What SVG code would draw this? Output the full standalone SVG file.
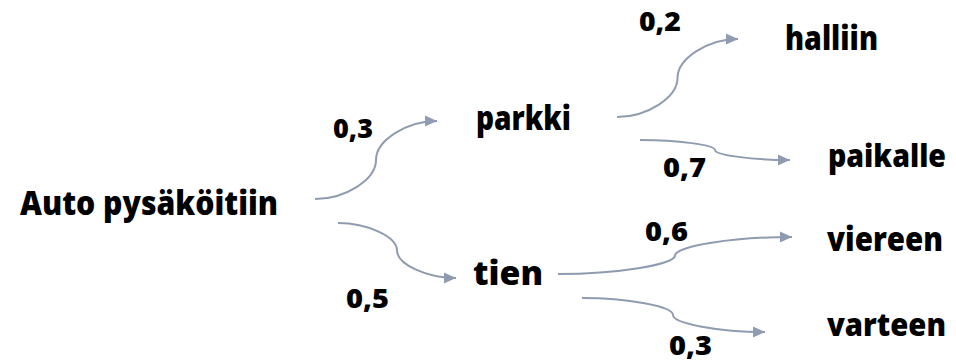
<svg xmlns="http://www.w3.org/2000/svg" width="956" height="363" viewBox="0 0 956 363">
<defs>
<style>
.lbl{font-family:"Open Sans","Liberation Sans",sans-serif;font-weight:800;font-size:33px;fill:#000}
.sm{font-size:31px}
.num{font-family:"Open Sans","Liberation Sans",sans-serif;font-weight:800;font-size:27px;fill:#000}
.con{fill:none;stroke:#8E9BB0;stroke-width:2;marker-end:url(#arr)}
</style>
<marker id="arr" markerUnits="userSpaceOnUse" markerWidth="14" markerHeight="12" refX="13" refY="6" orient="auto">
<path d="M1,0.5 L13,6 L1,11.5 z" fill="#8E9BB0"/>
</marker>
</defs>
<g id="connectors">
<path class="con" d="M315,199 C345.5,199 376,179.5 376,160 C376,140.5 406.5,121 437,121"/>
<path class="con" d="M338,223 C367.5,223 397,236.75 397,250.5 C397,264.25 426.5,278 456,278"/>
<path class="con" d="M617,117 C647,117 677.5,97.5 677.5,78 C677.5,58.5 708,39 738,39"/>
<path class="con" d="M640,140 C677.5,140 715,145 715,150 C715,155 752.5,160 790,160"/>
<path class="con" d="M558,274 C616.5,274 675,264.75 675,255.5 C675,246.25 733.5,237 792,237"/>
<path class="con" d="M582,298 C627.5,298 673,306.5 673,315 C673,323.5 719,332 765,332"/>
</g>
<g id="root"><text class="lbl" x="20" y="215" textLength="258" lengthAdjust="spacingAndGlyphs">Auto pysäköitiin</text></g>
<g id="parkki"><text class="lbl" x="476" y="130" textLength="95" lengthAdjust="spacingAndGlyphs">parkki</text></g>
<g id="tien"><text class="lbl" x="473" y="285" textLength="70" lengthAdjust="spacingAndGlyphs">tien</text></g>
<g id="halliin"><text class="lbl" x="785" y="50" textLength="93" lengthAdjust="spacingAndGlyphs">halliin</text></g>
<g id="paikalle"><text class="lbl sm" x="828" y="167" textLength="118" lengthAdjust="spacingAndGlyphs">paikalle</text></g>
<g id="viereen"><text class="lbl" x="827" y="251" textLength="116" lengthAdjust="spacingAndGlyphs">viereen</text></g>
<g id="varteen"><text class="lbl sm" x="827" y="336" textLength="119" lengthAdjust="spacingAndGlyphs">varteen</text></g>
<g id="labels">
<text class="num" x="333" y="138" textLength="40" lengthAdjust="spacingAndGlyphs">0,3</text>
<text class="num" x="346" y="308" textLength="43" lengthAdjust="spacingAndGlyphs">0,5</text>
<text class="num" x="639" y="31" textLength="42" lengthAdjust="spacingAndGlyphs">0,2</text>
<text class="num" x="663" y="177" textLength="43" lengthAdjust="spacingAndGlyphs">0,7</text>
<text class="num" x="645" y="241" textLength="43" lengthAdjust="spacingAndGlyphs">0,6</text>
<text class="num" x="669" y="355" textLength="43" lengthAdjust="spacingAndGlyphs">0,3</text>
</g>
</svg>
